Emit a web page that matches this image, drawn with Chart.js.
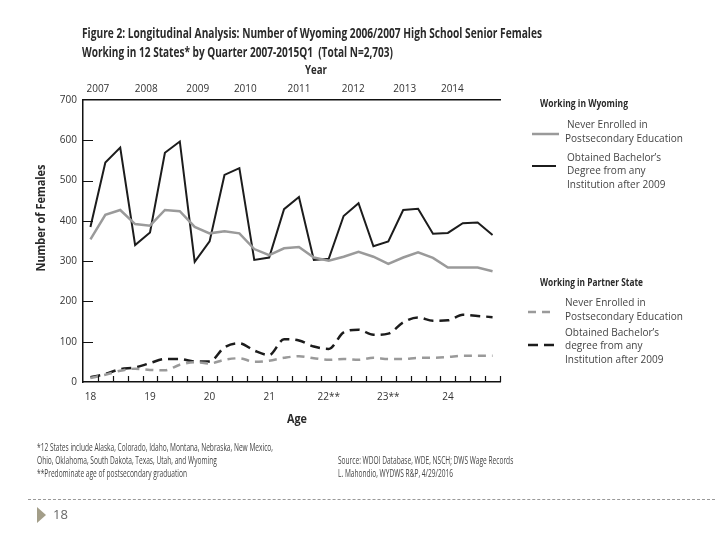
<!DOCTYPE html>
<html>
<head>
<meta charset="utf-8">
<script src="https://cdn.jsdelivr.net/npm/chart.js@4/dist/chart.umd.min.js"></script>
<style>
  html, body { margin: 0; padding: 0; background: #fff; }
  #wrap { position: relative; width: 720px; height: 540px; overflow: hidden; }
  #c { position: absolute; left: 0; top: 0; }
  .t { position: absolute; white-space: nowrap; font-family: "Open Sans", "Liberation Sans", sans-serif; color: #333; }
</style>
</head>
<body>
<div id="wrap">
  <canvas id="c" width="720" height="540"></canvas>
</div>
<script>
// ---- data ----
const quarters = [
  "2007Q1","2007Q2","2007Q3","2007Q4","2008Q1","2008Q2","2008Q3","2008Q4",
  "2009Q1","2009Q2","2009Q3","2009Q4","2010Q1","2010Q2","2010Q3","2010Q4",
  "2011Q1","2011Q2","2011Q3","2011Q4","2012Q1","2012Q2","2012Q3","2012Q4",
  "2013Q1","2013Q2","2013Q3","2013Q4"
];
const wyNever = [354, 415, 427, 392, 388, 427, 424, 385, 369, 374, 369, 330, 315, 332, 335, 309, 301, 311, 323, 311, 293, 309, 322, 308, 284, 284, 284, 275];
const wyBach  = [385, 545, 582, 340, 371, 569, 597, 298, 349, 514, 531, 303, 309, 429, 459, 303, 306, 412, 444, 337, 349, 427, 430, 368, 370, 394, 396, 365];
const psNever = [10, 18, 28, 33, 30, 29, 43, 49, 46, 55, 59, 50, 53, 60, 64, 59, 55, 57, 55, 60, 57, 57, 60, 60, 62, 65, 65, 65];
const psBach  = [12, 20, 32, 36, 47, 57, 57, 51, 51, 86, 96, 78, 67, 106, 103, 88, 82, 123, 130, 117, 120, 148, 160, 152, 153, 167, 164, 161];
const ageLabels  = ["18", "19", "20", "21", "22**", "23**", "24"];
const yearLabels = ["2007", "2008", "2009", "2010", "2011", "2012", "2013", "2014"];
const yearAt     = [0.5, 3.75, 7.2, 10.4, 14, 17.65, 21.1, 24.3]; // quarter index where each year label sits
const yTicks     = [0, 100, 200, 300, 400, 500, 600, 700];

const BLACK = "#1c1c1c", GRAY = "#9a9a9a";

const innerTicks = {
  id: "innerTicks",
  afterDraw(chart) {
    const ctx = chart.ctx, a = chart.chartArea;
    const x = chart.scales.x, y = chart.scales.y;
    ctx.save();
    ctx.strokeStyle = "#111";
    ctx.lineWidth = 1.2;
    ctx.beginPath();
    yTicks.forEach(v => {
      if (v === 0 || v === 700) return;
      const py = Math.round(y.getPixelForValue(v)) + 0.5;
      ctx.moveTo(a.left, py); ctx.lineTo(a.left + 10, py);
    });
    for (let k = 0; k < quarters.length; k++) {
      const px = Math.round(x.getPixelForValue(k + 0.5)) + 0.5;
      ctx.moveTo(px, a.bottom); ctx.lineTo(px, a.bottom - 6);
    }
    ctx.stroke();
    // legend samples
    const ds = chart.data.datasets;
    const samples = [[532, 559, 134, 0], [532, 556, 166, 1], [528, 556, 312, 2], [528, 556, 345, 3]];
    samples.forEach(([x1, x2, yy, i]) => {
      const d = ds[i];
      ctx.beginPath();
      ctx.strokeStyle = d.borderColor;
      ctx.lineWidth = d.borderWidth;
      ctx.setLineDash(d.borderDash || []);
      ctx.moveTo(x1, yy); ctx.lineTo(x2, yy);
      ctx.stroke();
    });
    ctx.restore();
  }
};

const tickFont = { family: "'Open Sans', sans-serif", size: 10 };

new Chart(document.getElementById("c"), {
  type: "line",
  data: {
    labels: quarters,
    datasets: [
      { label: "Working in Wyoming: Never Enrolled in Postsecondary Education", data: wyNever,
        borderColor: GRAY, borderWidth: 2.5, pointRadius: 0, tension: 0, fill: false },
      { label: "Working in Wyoming: Obtained Bachelor's Degree from any Institution after 2009", data: wyBach,
        borderColor: BLACK, borderWidth: 2, pointRadius: 0, tension: 0, fill: false },
      { label: "Working in Partner State: Never Enrolled in Postsecondary Education", data: psNever,
        borderColor: GRAY, borderWidth: 2.5, borderDash: [8, 6], pointRadius: 0, cubicInterpolationMode: "monotone", fill: false },
      { label: "Working in Partner State: Obtained Bachelor's degree from any Institution after 2009", data: psBach,
        borderColor: BLACK, borderWidth: 2.5, borderDash: [10, 6], pointRadius: 0, cubicInterpolationMode: "monotone", fill: false }
    ]
  },
  options: {
    responsive: false,
    animation: false,
    devicePixelRatio: 1,
    layout: { padding: { left: 50, right: 220, top: 82, bottom: 134 } },
    plugins: { legend: { display: false }, tooltip: { enabled: false }, title: { display: false } },
    scales: {
      x: {
        type: "category",
        offset: true,
        grid: { display: false, drawTicks: false },
        border: { display: true, color: "#111", width: 1.5 },
        ticks: {
          autoSkip: false, maxRotation: 0, padding: 9, color: "#333", font: tickFont,
          callback: (v, i) => (i % 4 === 0 && ageLabels[i / 4] !== undefined) ? ageLabels[i / 4] : ""
        },
        afterFit: s => { s.height = 24; }
      },
      x2: {
        type: "linear", position: "top", min: -0.5, max: 27.5,
        grid: { display: false, drawTicks: false },
        border: { display: true, color: "#111", width: 1.5 },
        afterBuildTicks: s => { s.ticks = yearAt.map(v => ({ value: v })); },
        ticks: {
          autoSkip: false, maxRotation: 0, padding: 5, color: "#333", font: tickFont,
          callback: v => { const i = yearAt.indexOf(v); return i >= 0 ? yearLabels[i] : ""; }
        },
        afterFit: s => { s.height = 18; }
      },
      y: {
        type: "linear", min: 0, max: 700,
        grid: { display: false, drawTicks: false },
        border: { display: true, color: "#111", width: 1.5 },
        afterBuildTicks: s => { s.ticks = yTicks.map(v => ({ value: v })); },
        ticks: { padding: 6, color: "#333", font: tickFont },
        afterFit: s => { s.width = 33; }
      }
    }
  },
  plugins: [innerTicks]
});

// ---- text overlays ----
const wrap = document.getElementById("wrap");
function mk(text, size, weight, color) {
  const d = document.createElement("div");
  d.className = "t";
  d.textContent = text;
  d.style.fontSize = size + "px";
  d.style.fontWeight = weight;
  d.style.lineHeight = "1";
  if (color) d.style.color = color;
  wrap.appendChild(d);
  return d;
}
function place(d, x, y, s, anchor, rot) {
  d.style.left = x + "px";
  d.style.top = y + "px";
  if (anchor === "left") {
    d.style.transformOrigin = "0 50%";
    d.style.transform = "translateY(-50%) scaleX(" + s + ")";
  } else {
    d.style.transformOrigin = "50% 50%";
    d.style.transform = "translate(-50%,-50%)" + (rot ? " rotate(" + rot + "deg)" : "") + " scaleX(" + s + ")";
  }
}
function T(text, x, y, w, size, weight, anchor, color, rot) {
  const d = mk(text, size, weight, color);
  const nat = d.getBoundingClientRect().width;
  place(d, x, y, w ? w / nat : 1, anchor, rot);
}
// group of lines sharing one horizontal scale, fitted on one reference line
function G(lines, size, weight, color, refIndex, refWidth) {
  const els = lines.map(l => mk(l[0], size, weight, color));
  const s = refWidth / els[refIndex].getBoundingClientRect().width;
  els.forEach((d, i) => place(d, lines[i][1], lines[i][2], s, "left"));
}
function build() {
  T("Figure 2: Longitudinal Analysis: Number of Wyoming 2006/2007 High School Senior Females", 82, 33, 460, 14, 700, "left", "#2a2a2a");
  T("Working in 12 States* by Quarter 2007-2015Q1\u00a0\u00a0(Total N=2,703)", 82, 52, 311, 14, 700, "left", "#2a2a2a");
  T("Year", 316, 70, 22, 11.5, 700, "center", "#2a2a2a");
  T("Age", 297, 419, 20, 12, 700, "center", "#2a2a2a");
  T("Number of Females", 41, 218, 107, 12, 700, "center", "#2a2a2a", -90);

  T("Working in Wyoming", 540, 103, 88, 10.5, 700, "left", "#2a2a2a");
  T("Working in Partner State", 540, 282, 103, 10.5, 700, "left", "#2a2a2a");
  G([
    ["Never Enrolled in", 567, 124],
    ["Postsecondary Education", 565, 138],
    ["Obtained Bachelor\u2019s", 567, 157],
    ["Degree from any", 567, 170],
    ["Institution after 2009", 567, 184],
    ["Never Enrolled in", 565, 302],
    ["Postsecondary Education", 565, 316],
    ["Obtained Bachelor\u2019s", 565, 332],
    ["degree from any", 565, 345],
    ["Institution after 2009", 565, 359]
  ], 11.5, 400, "#444", 1, 118);

  G([
    ["*12 States include Alaska, Colorado, Idaho, Montana, Nebraska, New Mexico,", 37, 447],
    ["Ohio, Oklahoma, South Dakota, Texas, Utah, and Wyoming", 37, 460],
    ["**Predominate age of postsecondary graduation", 37, 473],
    ["Source: WDOI Database, WDE, NSCH; DWS Wage Records", 338, 460],
    ["L. Mahondio, WYDWS R&P, 4/29/2016", 338, 473]
  ], 10.5, 400, "#444", 0, 236);

  const line = document.createElement("div");
  line.style.cssText = "position:absolute;left:28px;top:499px;width:687px;border-top:1px dashed #999;";
  wrap.appendChild(line);
  const tri = document.createElement("div");
  tri.style.cssText = "position:absolute;left:37px;top:507px;width:0;height:0;border-left:9px solid #a39e89;border-top:8px solid transparent;border-bottom:8px solid transparent;";
  wrap.appendChild(tri);
  T("18", 53, 514, 0, 13, 400, "left", "#666");
}
if (document.fonts && document.fonts.ready) { document.fonts.ready.then(build); } else { build(); }
</script>
</body>
</html>
